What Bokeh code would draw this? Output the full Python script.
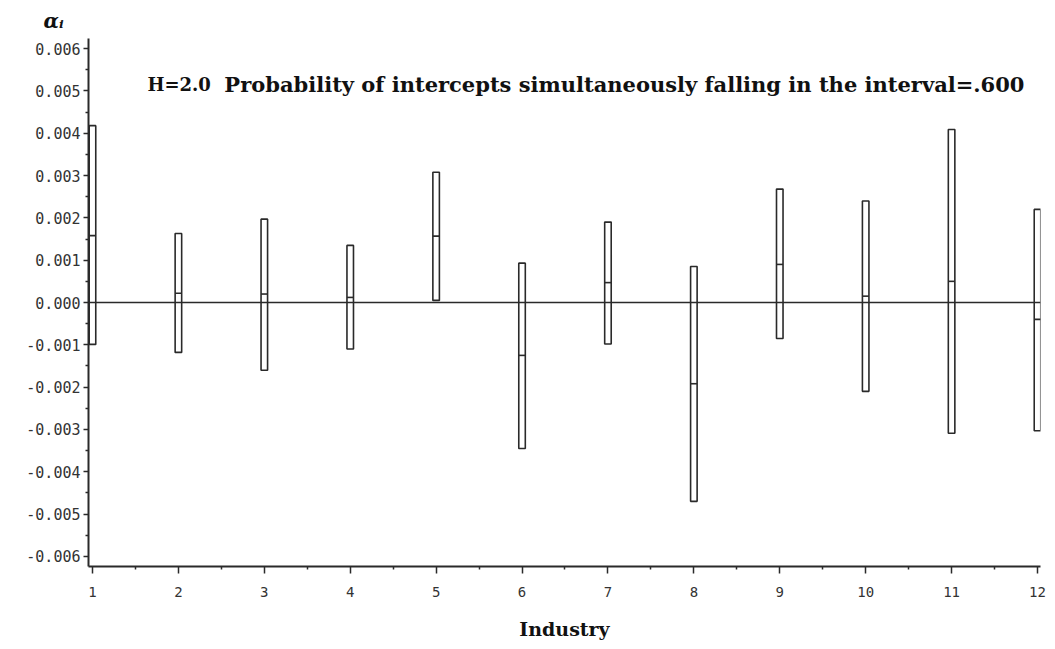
from bokeh.plotting import figure
from bokeh.models import FixedTicker, NumeralTickFormatter, Span, Label, Range1d
from bokeh.embed import file_html
from bokeh.resources import INLINE

industries = [1, 2, 3, 4, 5, 6, 7, 8, 9, 10, 11, 12]
upper = [0.00418, 0.00163, 0.00197, 0.00135, 0.00308, 0.00093, 0.00190, 0.00085, 0.00268, 0.00240, 0.00409, 0.00220]
lower = [-0.00099, -0.00118, -0.00160, -0.00110, 0.00005, -0.00345, -0.00098, -0.00470, -0.00085, -0.00210, -0.00309, -0.00303]
estimate = [0.00158, 0.00022, 0.00020, 0.00012, 0.00157, -0.00125, 0.00047, -0.00192, 0.00090, 0.00015, 0.00050, -0.00040]
y_ticks = [-0.006, -0.005, -0.004, -0.003, -0.002, -0.001, 0.0, 0.001, 0.002, 0.003, 0.004, 0.005, 0.006]

INK = "#2a2a2a"
half_w = 0.038

p = figure(width=1047, height=645, output_backend="svg", toolbar_location=None,
           x_range=Range1d(0.9535, 12.035), y_range=Range1d(-0.00624, 0.00624),
           min_border_left=88, min_border_right=7, min_border_top=38, min_border_bottom=79)
p.outline_line_color = None
p.xgrid.visible = False
p.ygrid.visible = False
p.background_fill_color = "white"
p.border_fill_color = "white"

# y-axis symbol as a title above the frame
p.title.text = "αᵢ"
p.title.align = "left"
p.title.offset = -45
p.title.standoff = 12
p.title.text_font = "DejaVu Serif"
p.title.text_font_style = "bold italic"
p.title.text_font_size = "20px"
p.title.text_color = "#111111"

# bars
lefts = [x - half_w for x in industries]
rights = [x + half_w for x in industries]
p.quad(left=lefts, right=rights, bottom=lower, top=upper,
       fill_color="white", fill_alpha=0.0, line_color=INK, line_width=1.6)
p.segment(x0=lefts, x1=rights, y0=estimate, y1=estimate, line_color=INK, line_width=1.6)

p.add_layout(Span(location=0, dimension="width", line_color=INK, line_width=1.4))

# axes
xa = p.xaxis[0]
xa.ticker = FixedTicker(ticks=industries, minor_ticks=[x + 0.5 for x in industries[:-1]])
xa.axis_label = "Industry"
xa.axis_label_text_font = "DejaVu Serif"
xa.axis_label_text_font_style = "bold"
xa.axis_label_text_font_size = "19px"
xa.axis_label_text_color = "#111111"
xa.axis_label_standoff = 18
xa.major_label_text_font = "DejaVu Sans Mono"
xa.major_label_text_font_size = "14px"
xa.major_label_text_color = "#333333"
xa.major_label_standoff = 13

ya = p.yaxis[0]
ya.ticker = FixedTicker(ticks=y_ticks, minor_ticks=[round(-0.0055 + 0.001 * i, 4) for i in range(12)])
ya.formatter = NumeralTickFormatter(format="0.000")
ya.major_label_text_font = "DejaVu Sans Mono"
ya.major_label_text_font_size = "15px"
ya.major_label_text_color = "#333333"
ya.major_label_standoff = 3

for ax in (xa, ya):
    ax.axis_line_color = INK
    ax.axis_line_width = 2
    ax.major_tick_line_color = INK
    ax.major_tick_line_width = 1.5
    ax.minor_tick_line_color = INK
    ax.minor_tick_line_width = 1.5
    ax.major_tick_in = 0
    ax.minor_tick_in = 0
xa.major_tick_out = 7
xa.minor_tick_out = 3
ya.major_tick_out = 5
ya.minor_tick_out = 3

# texts inside the frame
p.add_layout(Label(x=1.64, y=0.00515, text="H=2.0", text_font="DejaVu Serif",
                   text_font_style="bold", text_font_size="18px", text_baseline="middle",
                   text_color="#111111"))
p.add_layout(Label(x=2.535, y=0.00515,
                   text="Probability of intercepts simultaneously falling in the interval=.600",
                   text_font="DejaVu Serif", text_font_style="bold", text_font_size="21px",
                   text_baseline="middle", text_color="#111111"))

open("out.html", "w").write(file_html(p, INLINE))
